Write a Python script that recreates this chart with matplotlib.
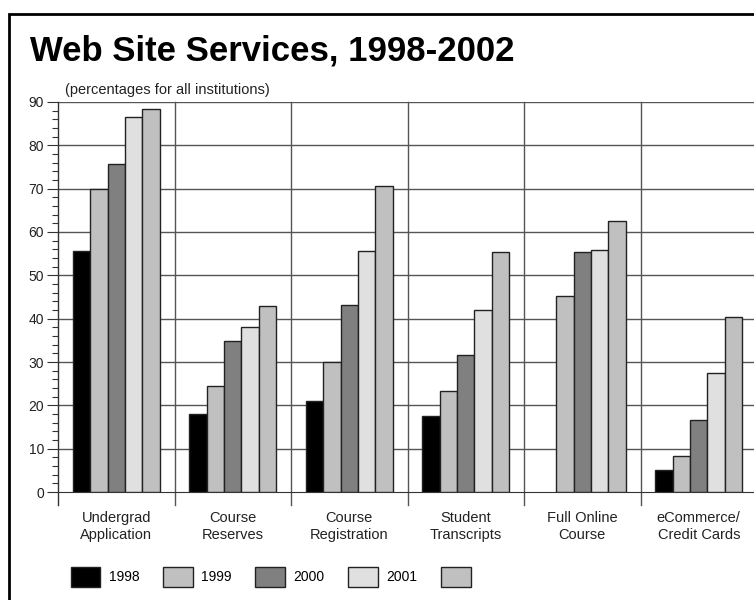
import matplotlib
matplotlib.use("Agg")
import matplotlib.pyplot as plt
import numpy as np
from matplotlib.patches import Patch, Rectangle
from matplotlib.ticker import MultipleLocator

categories = [
    "Undergrad\nApplication",
    "Course\nReserves",
    "Course\nRegistration",
    "Student\nTranscripts",
    "Full Online\nCourse",
    "eCommerce/\nCredit Cards",
]
years = ["1998", "1999", "2000", "2001", ""]
v1998 = [55.5, 17.9, 20.9, 17.6, np.nan, 5.1]
v1999 = [70.0, 24.4, 29.9, 23.4, 45.3, 8.3]
v2000 = [75.7, 34.9, 43.2, 31.6, 55.3, 16.6]
v2001 = [86.6, 38.1, 55.5, 42.1, 55.9, 27.5]
v2002 = [88.4, 43.0, 70.7, 55.4, 62.6, 40.4]
series = [v1998, v1999, v2000, v2001, v2002]
colors = ["#000000", "#c0c0c0", "#808080", "#e0e0e0", "#c0c0c0"]

plt.rcParams["font.family"] = ["Liberation Sans", "DejaVu Sans"]

W, H = 754, 600
fig = plt.figure(figsize=(W / 100, H / 100), dpi=100)
ax = fig.add_axes([58 / W, 108 / H, 699 / W, 390 / H])

n = len(categories)
x = np.arange(n) + 0.5
bw = 0.1485
for i, (vals, col) in enumerate(zip(series, colors)):
    ax.bar(x + (i - 2) * bw, vals, width=bw, color=col, edgecolor="#222222",
           linewidth=1.0, zorder=3)

ax.set_xlim(0, n)
ax.set_ylim(0, 90)
for y in range(10, 91, 10):
    ax.axhline(y, color="#555555", linewidth=1.0, zorder=1)
for b in range(1, n + 1):
    ax.plot([b, b], [-3, 90], color="#555555", linewidth=1.0, zorder=1, clip_on=False)
ax.plot([0, 0], [-3, 90], color="#333333", linewidth=1.0, zorder=4, clip_on=False)

for s in ["top", "right", "left"]:
    ax.spines[s].set_visible(False)
ax.spines["bottom"].set_color("#333333")
ax.yaxis.set_major_locator(MultipleLocator(10))
ax.yaxis.set_minor_locator(MultipleLocator(2))
ax.tick_params(axis="y", which="major", length=8, width=0.8, color="#333333",
               labelsize=10, pad=2, labelcolor="#222222")
ax.tick_params(axis="y", which="minor", length=4, width=0.8, color="#333333")
ax.set_xticks(x)
ax.set_xticklabels(categories, fontsize=10.5, linespacing=1.2, color="#222222")
ax.tick_params(axis="x", length=0, pad=14)

fig.text(30 / W, 1 - 51 / H, "Web Site Services, 1998-2002", fontsize=25,
         fontweight="bold", va="center")
fig.text(65 / W, 1 - 90 / H, "(percentages for all institutions)", fontsize=10.5,
         va="center", color="#222222")

handles = [Patch(facecolor=c, edgecolor="#222222", linewidth=1.0) for c in colors]
fig.legend(handles, years, loc="center left", bbox_to_anchor=(58 / W, 1 - 577 / H),
           ncol=5, frameon=False, fontsize=10, handlelength=2.15, handleheight=1.9,
           handletextpad=0.6, columnspacing=1.7)

fig.patches.append(Rectangle((9 / W, -0.1), 1.2, 1 - 14 / H + 0.1,
                             transform=fig.transFigure, fill=False,
                             edgecolor="black", linewidth=2.0))

fig.savefig("out.png", dpi=100)
